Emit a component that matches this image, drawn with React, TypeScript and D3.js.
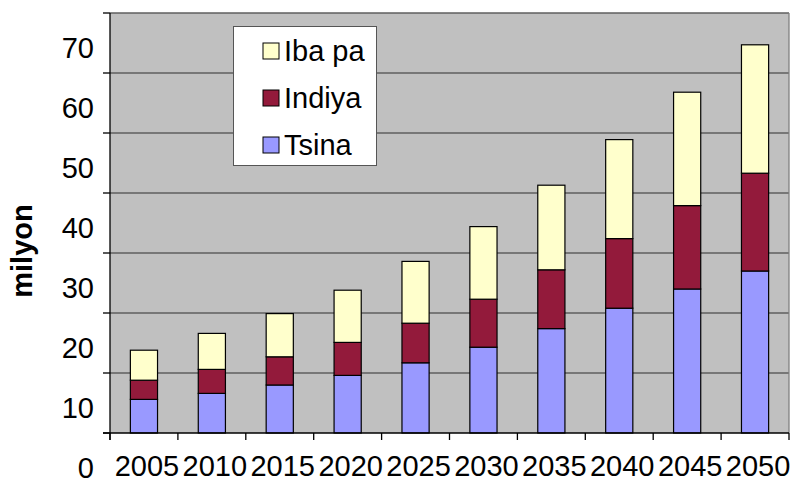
import * as d3 from 'd3';

// values (millions)
const years = ['2005', '2010', '2015', '2020', '2025', '2030', '2035', '2040', '2045', '2050'];
const tsina = [5.6, 6.6, 8.0, 9.6, 11.7, 14.3, 17.4, 20.8, 24.0, 27.0];
const indiya = [3.2, 4.0, 4.7, 5.5, 6.6, 8.0, 9.8, 11.6, 13.9, 16.3];
const ibaPa = [5.0, 6.0, 7.2, 8.7, 10.3, 12.1, 14.1, 16.5, 18.9, 21.4];
const yTicks = [0, 10, 20, 30, 40, 50, 60, 70];

const seriesKeys = ['tsina', 'indiya', 'ibaPa'];
const seriesColors: Record<string, string> = { tsina: '#9999FF', indiya: '#931A3B', ibaPa: '#FFFFCC' };
const legendItems = [
  { key: 'ibaPa', label: 'Iba pa' },
  { key: 'indiya', label: 'Indiya' },
  { key: 'tsina', label: 'Tsina' },
];

const W = 794;
const H = 481;
const left = 110;
const right = 789;
const top = 13;
const bottom = 433;
const font = "'Liberation Sans', Arial, sans-serif";

export default function App() {
  const rows = years.map((yr, i) => ({ year: yr, tsina: tsina[i], indiya: indiya[i], ibaPa: ibaPa[i] }));
  const stacked = d3.stack<any>().keys(seriesKeys)(rows);

  const x = d3.scaleBand().domain(years).range([left, right]).paddingInner(0.6).paddingOuter(0.3);
  const y = d3.scaleLinear().domain([0, 70]).range([bottom, top]);
  const step = x.step();
  const xTickPos = d3.range(years.length + 1).map(i => left + i * step);

  return (
    <div style={{ position: 'absolute', left: 0, top: 0 }}>
      <svg width={W} height={H} style={{ display: 'block', background: '#fff' }} fontFamily={font}>
        {/* plot area */}
        <rect x={left} y={top} width={right - left} height={bottom - top} fill="#C0C0C0" />
        {yTicks.filter(t => t > 0).map(t => (
          <line key={t} x1={left} x2={right} y1={y(t)} y2={y(t)} stroke="#5f5f5f" strokeWidth={1.3} />
        ))}
        <line x1={right} x2={right} y1={top} y2={bottom} stroke="#808080" strokeWidth={1.3} />

        {/* bars */}
        {stacked.map(s => (
          <g key={s.key} fill={seriesColors[s.key]}>
            {s.map((d, i) => (
              <rect
                key={i}
                x={x(years[i])}
                y={y(d[1])}
                width={x.bandwidth()}
                height={y(d[0]) - y(d[1])}
                stroke="#000"
                strokeWidth={1.2}
              />
            ))}
          </g>
        ))}

        {/* axes */}
        <line x1={left} x2={left} y1={top} y2={bottom + 7} stroke="#000" strokeWidth={1.3} />
        <line x1={left - 7} x2={right} y1={bottom} y2={bottom} stroke="#000" strokeWidth={1.3} />
        {yTicks.map(t => (
          <line key={t} x1={left - 7} x2={left} y1={y(t)} y2={y(t)} stroke="#000" strokeWidth={1.3} />
        ))}
        {xTickPos.map((p, i) => (
          <line key={i} x1={p} x2={p} y1={bottom} y2={bottom + 7} stroke="#000" strokeWidth={1.3} />
        ))}

        {yTicks.map(t => (
          <text key={t} x={94} y={y(t) + 35} dy="0.35em" textAnchor="end" fontSize={29} fill="#000">
            {t}
          </text>
        ))}
        {years.map(yr => (
          <text key={yr} x={(x(yr) ?? 0) + x.bandwidth() / 2 + 3} y={466} dy="0.35em" textAnchor="middle" fontSize={29} fill="#000">
            {yr}
          </text>
        ))}

        <text
          transform={`translate(22,251) rotate(-90)`}
          textAnchor="middle"
          dy="0.35em"
          fontSize={29}
          fontWeight="bold"
          fill="#000"
        >
          milyon
        </text>

        {/* legend */}
        <rect x={233.5} y={26.5} width={143} height={139} fill="#fff" stroke="#555" strokeWidth={1} />
        {legendItems.map((item, i) => (
          <g key={item.key} transform={`translate(263,${51 + i * 47})`}>
            <rect x={0} y={-8} width={16} height={16} fill={seriesColors[item.key]} stroke="#000" strokeWidth={1} />
            <text x={21} y={0} dy="0.36em" fontSize={29} fill="#000">
              {item.label}
            </text>
          </g>
        ))}
      </svg>
    </div>
  );
}
